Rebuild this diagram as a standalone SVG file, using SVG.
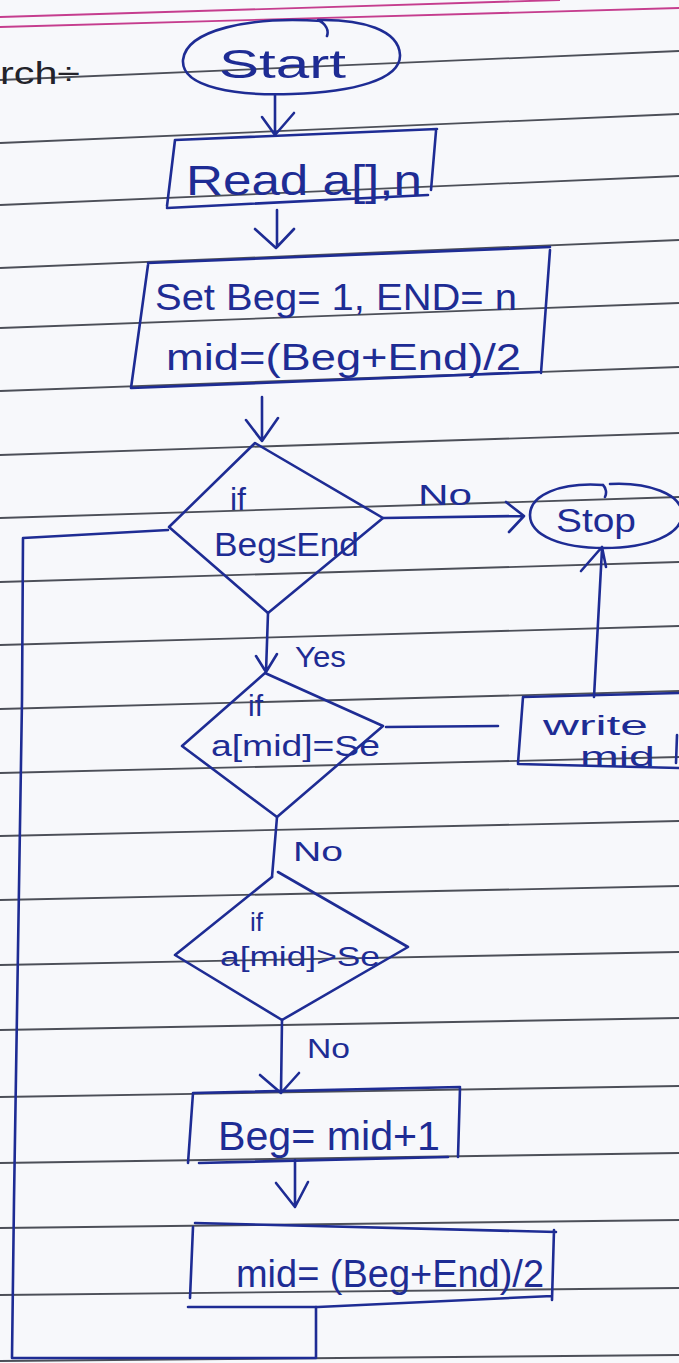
<svg xmlns="http://www.w3.org/2000/svg" width="679" height="1363" viewBox="0 0 679 1363">
  <style>
    .ink{fill:none;stroke:#1e2c94;stroke-width:2.6;stroke-linecap:round;stroke-linejoin:round}
    .t{font-family:"Liberation Sans",Arial,sans-serif;fill:#1e2c94}
    .rule{stroke:#4c4f58;stroke-width:1.8}
    .margin{stroke:#c53d8e;stroke-width:1.8;fill:none}
  </style>

  <!-- notebook page -->
  <rect x="0" y="0" width="679" height="1363" fill="#f7f8fb"/>
  <g id="page-rules">
    <path class="margin" d="M0,17 L560,0"/>
    <path class="margin" d="M0,27 L679,8"/>
    <line class="rule" x1="0" y1="80" x2="679" y2="51"/>
    <line class="rule" x1="0" y1="143" x2="679" y2="114"/>
    <line class="rule" x1="0" y1="205" x2="679" y2="176"/>
    <line class="rule" x1="0" y1="268" x2="679" y2="240"/>
    <line class="rule" x1="0" y1="328" x2="679" y2="303"/>
    <line class="rule" x1="0" y1="391" x2="679" y2="367"/>
    <line class="rule" x1="0" y1="455" x2="679" y2="433"/>
    <line class="rule" x1="0" y1="518" x2="679" y2="497"/>
    <line class="rule" x1="0" y1="582" x2="679" y2="562"/>
    <line class="rule" x1="0" y1="645" x2="679" y2="626"/>
    <line class="rule" x1="0" y1="709" x2="679" y2="691"/>
    <line class="rule" x1="0" y1="773" x2="679" y2="757"/>
    <line class="rule" x1="0" y1="836" x2="679" y2="821"/>
    <line class="rule" x1="0" y1="900" x2="679" y2="886"/>
    <line class="rule" x1="0" y1="965" x2="679" y2="952"/>
    <line class="rule" x1="0" y1="1030" x2="679" y2="1018"/>
    <line class="rule" x1="0" y1="1097" x2="679" y2="1086"/>
    <line class="rule" x1="0" y1="1163" x2="679" y2="1153"/>
    <line class="rule" x1="0" y1="1228" x2="679" y2="1220"/>
    <line class="rule" x1="0" y1="1295" x2="679" y2="1288"/>
    <line class="rule" x1="0" y1="1361" x2="679" y2="1355"/>
  </g>

  <!-- heading fragment at the left edge -->
  <text x="0" y="84" font-size="32" textLength="80" lengthAdjust="spacingAndGlyphs" font-family="Liberation Sans, Arial, sans-serif" fill="#23232a">rch÷</text>

  <!-- connectors -->
  <g id="connectors" class="ink">
    <path d="M275,95 L275,135 M262,117 L275,135 L294,113"/>
    <path d="M277,210 L277,247 M255,229 L276,248 L294,229"/>
    <path d="M262,397 L262,440 M246,420 L262,441 L278,418"/>
    <path d="M383,518 L522,516 M506,502 L524,516 L509,532"/>
    <path d="M268,613 L266,672 M256,656 L266,672 L277,654"/>
    <path d="M386,727 L498,726"/>
    <path d="M594,697 L602,549 M581,571 L602,547 L606,567"/>
    <path d="M277,817 L272,877"/>
    <path d="M282,1020 L281,1092 M260,1075 L281,1093 L299,1073"/>
    <path d="M295,1160 L295,1207 M276,1183 L295,1207 L308,1182"/>
    <path d="M316,1307 L316,1358 L12,1358 L14,1200 L18,950 L22,700 L23,538 L168,530"/>
  </g>
  <g id="edge-labels" class="t">
    <text x="418" y="505" font-size="30" textLength="54" lengthAdjust="spacingAndGlyphs">No</text>
    <text x="295" y="667" font-size="30" textLength="51" lengthAdjust="spacingAndGlyphs">Yes</text>
    <text x="293" y="861" font-size="28" textLength="50" lengthAdjust="spacingAndGlyphs">No</text>
    <text x="307" y="1058" font-size="28" textLength="43" lengthAdjust="spacingAndGlyphs">No</text>
  </g>

  <g id="start">
    <path class="ink" d="M322,21 C250,16 186,30 183,60 C181,88 238,96 292,94 C352,92 401,80 400,55 C399,30 362,19 318,20 M318,20 C326,24 329,30 327,36"/>
    <text class="t" x="219" y="78" font-size="40" textLength="127" lengthAdjust="spacingAndGlyphs">Start</text>
  </g>

  <g id="read">
    <path class="ink" d="M175,140 L437,129 M436,131 L431,190 M428,195 L167,208 M167,206 L175,140"/>
    <text class="t" x="186" y="195" font-size="42" textLength="236" lengthAdjust="spacingAndGlyphs">Read a[],n</text>
  </g>

  <g id="set">
    <path class="ink" d="M148,263 L550,247 M550,250 L541,373 M539,372 L131,388 M131,388 L148,265"/>
    <text class="t" x="155" y="310" font-size="36" textLength="362" lengthAdjust="spacingAndGlyphs">Set Beg= 1, END= n</text>
    <text class="t" x="166" y="370" font-size="36" textLength="355" lengthAdjust="spacingAndGlyphs">mid=(Beg+End)/2</text>
  </g>

  <g id="check-range">
    <path class="ink" d="M255,443 L383,518 L268,613 L169,527 Z"/>
    <text class="t" x="230" y="510" font-size="32">if</text>
    <text class="t" x="214" y="556" font-size="34" textLength="145" lengthAdjust="spacingAndGlyphs">Beg≤End</text>
  </g>

  <g id="stop">
    <path class="ink" d="M603,485 C560,482 530,495 530,515 C530,536 562,548 604,548 C648,548 682,535 682,514 C682,494 648,482 610,484 M603,485 C606,488 607,493 605,497"/>
    <text class="t" x="556" y="532" font-size="34" textLength="80" lengthAdjust="spacingAndGlyphs">Stop</text>
  </g>

  <g id="check-equal">
    <path class="ink" d="M265,673 L383,726 L277,817 L182,746 Z"/>
    <text class="t" x="248" y="716" font-size="30">if</text>
    <text class="t" x="211" y="756" font-size="30" textLength="169" lengthAdjust="spacingAndGlyphs">a[mid]=Se</text>
  </g>

  <g id="write">
    <path class="ink" d="M523,697 L681,693 M523,697 L518,763 M518,764 L681,768 M677,735 L676,763"/>
    <text class="t" x="543" y="735" font-size="27" textLength="105" lengthAdjust="spacingAndGlyphs">write</text>
    <text class="t" x="580" y="766" font-size="27" textLength="75" lengthAdjust="spacingAndGlyphs">mid</text>
  </g>

  <g id="check-greater">
    <path class="ink" d="M272,877 L175,955 L282,1020 L408,947 L278,872"/>
    <text class="t" x="250" y="931" font-size="26">if</text>
    <text class="t" x="220" y="966" font-size="28" textLength="160" lengthAdjust="spacingAndGlyphs">a[mid]&gt;Se</text>
  </g>

  <g id="advance-beg">
    <path class="ink" d="M193,1093 L460,1087 M460,1088 L458,1157 M448,1157 L199,1163 M188,1163 L193,1093"/>
    <text class="t" x="218" y="1150" font-size="40" textLength="222" lengthAdjust="spacingAndGlyphs">Beg= mid+1</text>
  </g>

  <g id="recompute-mid">
    <path class="ink" d="M195,1223 L556,1232 M554,1230 L552,1300 M193,1227 L190,1298 M188,1307 L318,1307 L552,1296"/>
    <text class="t" x="236" y="1287" font-size="38" textLength="308" lengthAdjust="spacingAndGlyphs">mid= (Beg+End)/2</text>
  </g>
</svg>
